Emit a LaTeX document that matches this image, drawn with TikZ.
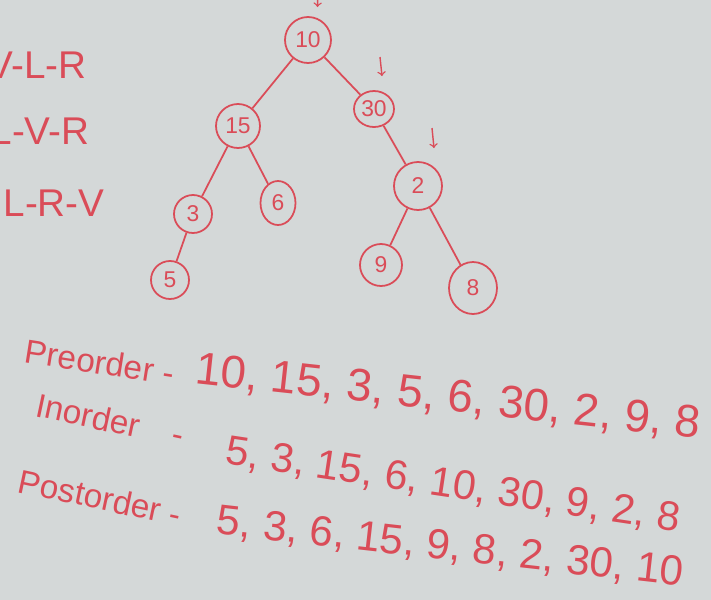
\documentclass[tikz,border=0pt]{standalone}
\usepackage{fontspec}
\setmainfont{Liberation Sans}
\usetikzlibrary{shapes.geometric}
\definecolor{board}{RGB}{212,216,216}
\definecolor{ink}{RGB}{218,76,88}
\begin{document}
\begin{tikzpicture}

\tikzset{vert/.style={ellipse, draw=ink, line width=1pt, text=ink, inner sep=0pt, font=\fontsize{13}{13}\selectfont}}
\tikzset{branch/.style={draw=ink, line width=1pt}}
\tikzset{rule/.style={text=ink, inner sep=0pt, font=\fontsize{22}{22}\selectfont}}
\tikzset{word/.style={text=ink, inner sep=0pt, font=\fontsize{19}{19}\selectfont}}
\tikzset{seq/.style={text=ink, inner sep=0pt, font=\fontsize{26}{26}\selectfont}}
\tikzset{tick/.style={draw=ink, line width=0.8pt, ->}}

\useasboundingbox (0,0) rectangle (14.22,-12);
\fill[board] (0,0) rectangle (14.22,-12);
\clip (0,0) rectangle (14.22,-12);

\node[vert, minimum width=0.92cm, minimum height=0.92cm] (n10) at (6.16,-0.80) {10};
\node[vert, minimum width=0.80cm, minimum height=0.72cm] (n30) at (7.48,-2.18) {30};
\node[vert, minimum width=0.88cm, minimum height=0.88cm] (n15) at (4.76,-2.52) {15};
\node[vert, minimum width=0.96cm, minimum height=0.96cm] (n2) at (8.36,-3.72) {2};
\node[vert, minimum width=0.76cm, minimum height=0.76cm] (n3) at (3.86,-4.28) {3};
\node[vert, minimum width=0.70cm, minimum height=0.88cm] (n6) at (5.56,-4.06) {6};
\node[vert, minimum width=0.76cm, minimum height=0.76cm] (n5) at (3.40,-5.60) {5};
\node[vert, minimum width=0.84cm, minimum height=0.84cm] (n9) at (7.62,-5.30) {9};
\node[vert, minimum width=0.96cm, minimum height=1.04cm] (n8) at (9.46,-5.76) {8};

\draw[branch] (n10) -- (n15);
\draw[branch] (n10) -- (n30);
\draw[branch] (n15) -- (n3);
\draw[branch] (n15) -- (n6);
\draw[branch] (n3) -- (n5);
\draw[branch] (n30) -- (n2);
\draw[branch] (n2) -- (n9);
\draw[branch] (n2) -- (n8);

\coordinate (t10a) at (6.36,0.20);
\coordinate (t10b) at (6.35,-0.14);
\coordinate (t30a) at (7.60,-1.14);
\coordinate (t30b) at (7.64,-1.52);
\coordinate (t2a) at (8.64,-2.56);
\coordinate (t2b) at (8.68,-2.96);
\draw[tick] (t10a) -- (t10b);
\draw[tick] (t30a) -- (t30b);
\draw[tick] (t2a) -- (t2b);

\node[rule] (vlr) at (0.74,-1.30) {V-L-R};
\node[rule] (lvr) at (0.80,-2.62) {L-V-R};
\node[rule] (lrv) at (1.08,-4.06) {L-R-V};

\node[word, rotate=-9] (pre) at (2.00,-7.24) {Preorder -};
\node[seq, rotate=-6.2] (preseq) at (8.96,-7.96) {10, 15, 3, 5, 6, 30, 2, 9, 8};
\node[word, rotate=-12] (ino) at (2.20,-8.40) {Inorder\quad-};
\node[seq, rotate=-8.5, font=\fontsize{23.5}{23.5}\selectfont] (inseq) at (9.06,-9.72) {5, 3, 15, 6, 10, 30, 9, 2, 8};
\node[word, rotate=-12] (post) at (2.00,-9.95) {Postorder -};
\node[seq, rotate=-6.4, font=\fontsize{24}{24}\selectfont] (postseq) at (9.00,-10.96) {5, 3, 6, 15, 9, 8, 2, 30, 10};

\end{tikzpicture}
\end{document}
